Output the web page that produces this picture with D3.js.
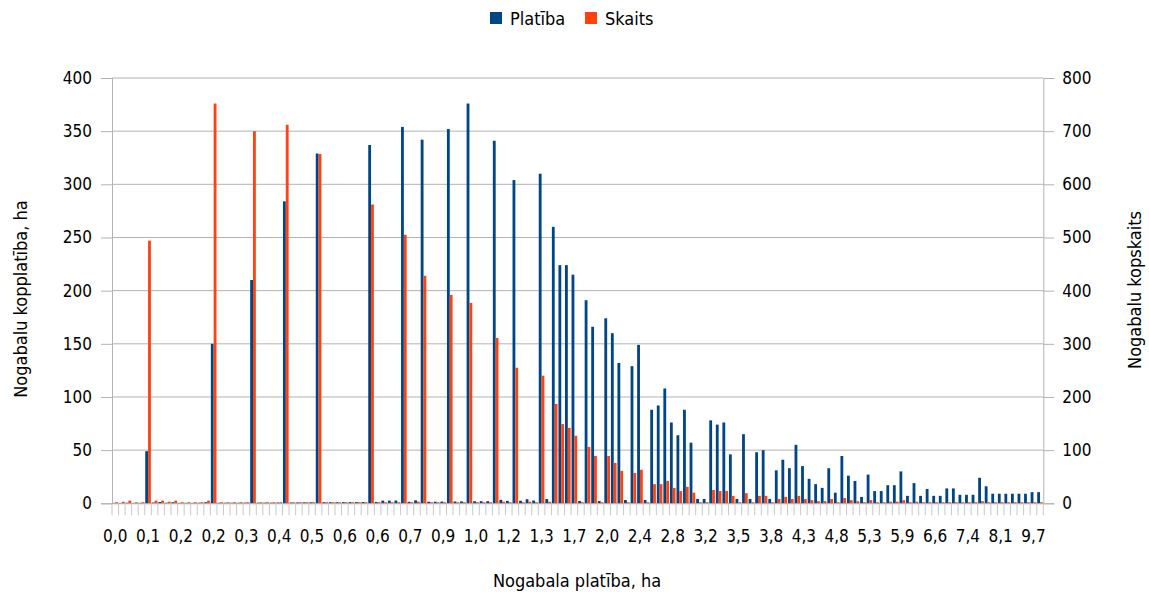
<!DOCTYPE html>
<html lang="lv">
<head>
<meta charset="UTF-8">
<title>Nogabali pēc platības</title>
<script src="https://cdn.jsdelivr.net/npm/d3@7/dist/d3.min.js"></script>
<style>
    body { margin: 0; background: #fff; }
    svg text { font-family: "DejaVu Sans Condensed", "DejaVu Sans", sans-serif; font-stretch: condensed; fill: #000; }
</style>
</head>
<body>
<svg id="chart" width="1149" height="592"></svg>
<script>
// kopplatība, ha (kreisā ass)
const platiba = [
    0.3, 0.3, 0.5, 0.3, 0.4, 49, 0.7, 1.2, 0.5, 1.0,
    0.4, 0.4, 0.4, 0.5, 1.0, 150, 0.5, 0.5, 0.5, 0.5,
    0.6, 210, 0.6, 0.6, 0.6, 0.7, 284, 0.8, 0.8, 0.9,
    0.9, 329, 1.0, 1.0, 1.0, 1.1, 1.1, 1.1, 1.2, 337,
    1.2, 2.5, 2.5, 2.6, 354, 1.4, 2.8, 342, 1.5, 1.5,
    1.6, 352, 1.7, 1.8, 376, 1.9, 2.0, 2.0, 341, 3.3,
    2.3, 304, 2.4, 3.8, 2.6, 310, 4.0, 260, 224, 224,
    215, 2.2, 191, 166, 2.2, 174, 160, 132, 3.1, 129,
    149, 3.1, 88, 92, 108, 76, 64, 88, 57, 4.1,
    4.1, 78, 74, 76, 46, 4.1, 65, 4.1, 48, 50,
    4.1, 31, 41, 33, 55, 35, 23, 18, 14.5, 33,
    10, 44.5, 26, 21, 6, 27, 11.5, 11.5, 17, 17,
    30, 7, 19, 7, 13.5, 7, 7, 14, 14, 8,
    8, 8, 24, 16, 9, 9, 9, 9, 9, 9,
    10.5, 10.5
];

// kopskaits (labā ass)
const skaits = [
    2, 3, 5, 2, 2, 494, 5, 5, 3, 5,
    2, 2, 2, 2, 5, 752, 2, 2, 2, 2,
    2, 700, 2, 2, 2, 2, 712, 2, 2, 2,
    2, 657, 2, 2, 2, 2, 2, 2, 2, 562,
    2, 2, 2, 2, 505, 2, 3, 428, 2, 2,
    2, 392, 2, 2, 377, 2, 2, 2, 311, 3,
    2, 255, 2, 3, 2, 240, 3, 187, 149, 142,
    127, 2, 106, 89, 2, 89, 76, 61, 2, 57,
    63, 2, 36, 36, 42, 29, 23, 31, 20, 2,
    2, 25, 23, 23, 14, 2, 19, 2, 14, 14,
    2, 8, 12, 8, 14, 8, 6, 4, 4, 8,
    2, 10, 6, 4, 2, 6, 2, 2, 3, 3,
    6, 2, 3, 2, 2, 2, 2, 2, 2, 2,
    2, 2, 4, 2, 2, 2, 2, 2, 2, 2,
    2, 2
];

// redzamās x ass etiķetes (katra 5. kategorija)
const tickLabels = [
    "0,0", "0,1", "0,2", "0,2", "0,3", "0,4", "0,5", "0,6", "0,6", "0,7",
    "0,9", "1,0", "1,2", "1,3", "1,7", "2,0", "2,4", "2,8", "3,2", "3,5",
    "3,8", "4,3", "4,8", "5,3", "5,9", "6,6", "7,4", "8,1", "9,7"
];

const leftTicks = [0, 50, 100, 150, 200, 250, 300, 350, 400];
const rightTicks = [0, 100, 200, 300, 400, 500, 600, 700, 800];

const seriesNames = ["Platība", "Skaits"];
const colors = ["#004586", "#ff420e"];

const svg = d3.select("#chart");
const plotLeft = 112, plotRight = 1043.3, plotTop = 78, plotBottom = 503.3;

const categories = d3.range(platiba.length);
const x = d3.scaleBand().domain(categories).range([plotLeft, plotRight]).padding(0);
const xSub = d3.scaleBand().domain([0, 1]).range([x.bandwidth() * 0.07, x.bandwidth() * 0.93]);
const yL = d3.scaleLinear().domain([0, 400]).range([plotBottom, plotTop]);
const yR = d3.scaleLinear().domain([0, 800]).range([plotBottom, plotTop]);

// gridlines
svg.append("g")
    .selectAll("line")
    .data(leftTicks)
    .enter().append("line")
    .attr("x1", plotLeft).attr("x2", plotRight)
    .attr("y1", d => yL(d)).attr("y2", d => yL(d))
    .attr("stroke", "#b3b3b3").attr("stroke-width", 1);

// axes
const axisL = d3.axisLeft(yL).tickValues(leftTicks).tickSize(11).tickPadding(9).tickFormat(d3.format("d"));
const axisR = d3.axisRight(yR).tickValues(rightTicks).tickSize(11).tickPadding(8).tickFormat(d3.format("d"));

const gL = svg.append("g").attr("transform", `translate(${plotLeft},0)`).call(axisL);
const gR = svg.append("g").attr("transform", `translate(${plotRight},0)`).call(axisR);
[gL, gR].forEach(g => {
    g.select(".domain").attr("stroke", "#b3b3b3");
    g.selectAll(".tick line").attr("stroke", "#b3b3b3");
    g.selectAll(".tick text").attr("font-size", 17).attr("fill", "#000")
        .style("font-family", "'DejaVu Sans Condensed', 'DejaVu Sans', sans-serif");
});

// bars
const groups = svg.append("g")
    .selectAll("g")
    .data(categories)
    .enter().append("g")
    .attr("transform", d => `translate(${x(d)},0)`);

groups.append("rect")
    .attr("x", xSub(0))
    .attr("width", xSub.bandwidth())
    .attr("y", d => yL(platiba[d]))
    .attr("height", d => plotBottom - yL(platiba[d]))
    .attr("fill", colors[0]);

groups.append("rect")
    .attr("x", xSub(1))
    .attr("width", xSub.bandwidth())
    .attr("y", d => yR(skaits[d]))
    .attr("height", d => plotBottom - yR(skaits[d]))
    .attr("fill", colors[1]);

// x axis
const axisB = d3.axisBottom(x)
    .tickValues([])
    .tickSizeOuter(0);
const gB = svg.append("g").attr("transform", `translate(0,${plotBottom})`).call(axisB);
gB.select(".domain").attr("stroke", "#b3b3b3");

svg.append("g")
    .selectAll("line")
    .data(d3.range(platiba.length + 1))
    .enter().append("line")
    .attr("x1", d => plotLeft + d * x.step()).attr("x2", d => plotLeft + d * x.step())
    .attr("y1", plotBottom + 1).attr("y2", plotBottom + 12)
    .attr("stroke", "#c8c8c8").attr("stroke-width", 1);

svg.append("g")
    .selectAll("text")
    .data(tickLabels)
    .enter().append("text")
    .attr("x", (d, i) => x(i * 5) + x.bandwidth() / 2)
    .attr("y", 542)
    .attr("text-anchor", "middle")
    .attr("font-size", 17)
    .text(d => d);

// axis titles
svg.append("text")
    .attr("x", 577).attr("y", 587)
    .attr("text-anchor", "middle")
    .attr("font-size", 18)
    .text("Nogabala platība, ha");

svg.append("text")
    .attr("transform", "translate(27,299) rotate(-90)")
    .attr("text-anchor", "middle")
    .attr("font-size", 18)
    .text("Nogabalu kopplatība, ha");

svg.append("text")
    .attr("transform", "translate(1141,290) rotate(-90)")
    .attr("text-anchor", "middle")
    .attr("font-size", 18)
    .text("Nogabalu kopskaits");

// legend
const legend = svg.append("g");
const legendX = [490, 585];
seriesNames.forEach((name, i) => {
    legend.append("rect")
        .attr("x", legendX[i]).attr("y", 12)
        .attr("width", 12).attr("height", 12)
        .attr("fill", colors[i]);
    legend.append("text")
        .attr("x", legendX[i] + 20).attr("y", 25)
        .attr("font-size", 18)
        .text(name);
});
</script>
</body>
</html>
